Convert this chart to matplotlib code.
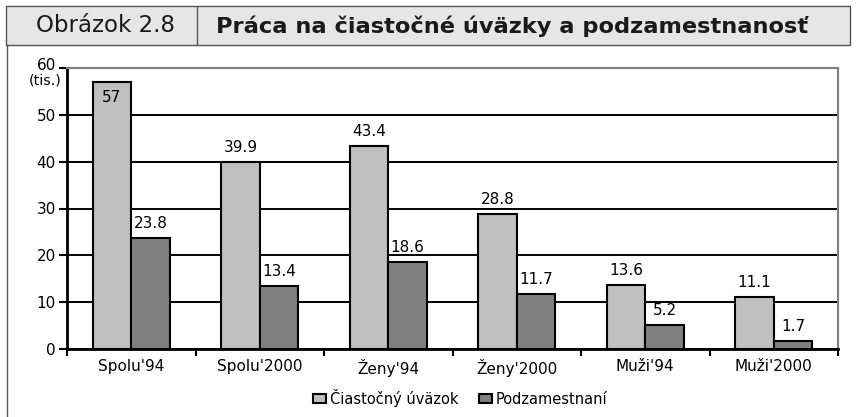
import matplotlib
matplotlib.use("Agg")
import matplotlib.pyplot as plt
from matplotlib.patches import Rectangle
from matplotlib.lines import Line2D
import matplotlib.transforms as mtransforms
import numpy as np

plt.rcParams['font.family'] = ['DejaVu Sans']

categories = ["Spolu'94", "Spolu'2000", "Ženy'94", "Ženy'2000", "Muži'94", "Muži'2000"]
ciastocny = [57, 39.9, 43.4, 28.8, 13.6, 11.1]
podzam = [23.8, 13.4, 18.6, 11.7, 5.2, 1.7]
labels_c = ["57", "39.9", "43.4", "28.8", "13.6", "11.1"]
labels_p = ["23.8", "13.4", "18.6", "11.7", "5.2", "1.7"]
series_names = ["Čiastočný úväzok", "Podzamestnaní"]
yticks = [0, 10, 20, 30, 40, 50, 60]

W, H = 856, 417
fig = plt.figure(figsize=(W / 100, H / 100), dpi=100)

def fx(px):
    return px / W

def fy(py):
    return 1 - py / H

# title bar
fig.patches.append(Rectangle((fx(6), fy(45)), fx(844), 39 / H, transform=fig.transFigure,
                             facecolor='#e6e6e6', edgecolor='#555555', lw=1.0))
fig.lines.append(Line2D([fx(197), fx(197)], [fy(45), fy(6)], transform=fig.transFigure,
                        color='#555555', lw=1.0))
fig.lines.append(Line2D([fx(7), fx(7)], [fy(45), 0], transform=fig.transFigure,
                        color='#555555', lw=1.0))
fig.text(fx(105), fy(26), "Obrázok 2.8", ha='center', va='center', fontsize=16.5, color='#1a1a1a')
fig.text(fx(216), fy(26), "Práca na čiastočné úväzky a podzamestnanosť", ha='left', va='center',
         fontsize=16.2, fontweight='bold', color='#1a1a1a')

ax = fig.add_axes([fx(67), fy(349), 771 / W, 281 / H])
x = np.arange(len(categories))
w = 0.3
ax.set_axisbelow(True)
ax.bar(x - w / 2, ciastocny, w, color='#c0c0c0', edgecolor='black', lw=1.5, label=series_names[0], zorder=3)
ax.bar(x + w / 2, podzam, w, color='#808080', edgecolor='black', lw=1.5, label=series_names[1], zorder=3)

fs = 11
for xi, v, lab in zip(x, ciastocny, labels_c):
    if v > 55:
        ax.annotate(lab, (xi - w / 2, v), xytext=(0, -6), textcoords='offset points',
                    ha='center', va='top', fontsize=fs, zorder=4)
    else:
        ax.annotate(lab, (xi - w / 2, v), xytext=(0, 5), textcoords='offset points',
                    ha='center', va='bottom', fontsize=fs, zorder=4)
for xi, v, lab in zip(x, podzam, labels_p):
    ax.annotate(lab, (xi + w / 2, v), xytext=(0, 5), textcoords='offset points',
                ha='center', va='bottom', fontsize=fs, zorder=4)

ax.set_xlim(-0.5, len(categories) - 0.5)
ax.set_ylim(0, 60)
ax.set_yticks(yticks)
ax.set_yticklabels([str(t) for t in yticks], fontsize=fs)
ax.yaxis.grid(True, color='black', lw=1.4)
ax.set_xticks(x)
ax.set_xticklabels(categories, fontsize=fs)
ax.tick_params(axis='x', which='major', length=0, pad=7)
ax.set_xticks(np.arange(-0.5, len(categories), 1.0), minor=True)
ax.tick_params(axis='x', which='minor', length=5, width=1.5, direction='out')
ax.tick_params(axis='y', length=6, width=1.5, direction='out', pad=2)
# lift the top tick label slightly, as in the reference
top_lab = ax.get_yticklabels()[-1]
top_lab.set_transform(top_lab.get_transform() + mtransforms.ScaledTranslation(0, 3 / 72, fig.dpi_scale_trans))

for s in ['top', 'right']:
    ax.spines[s].set_color('#808080')
    ax.spines[s].set_linewidth(1.5)
for s in ['left', 'bottom']:
    ax.spines[s].set_color('black')
    ax.spines[s].set_linewidth(2)
ax.spines['top'].set_zorder(5)

fig.text(fx(45), fy(80), "(tis.)", ha='center', va='center', fontsize=10.3)

leg = fig.legend(loc='center', bbox_to_anchor=(fx(460), fy(398)), ncol=2, frameon=False,
                 fontsize=10.5, handlelength=0.9, handleheight=0.55, handletextpad=0.25, columnspacing=1.4)

fig.savefig("out.png", dpi=100)
